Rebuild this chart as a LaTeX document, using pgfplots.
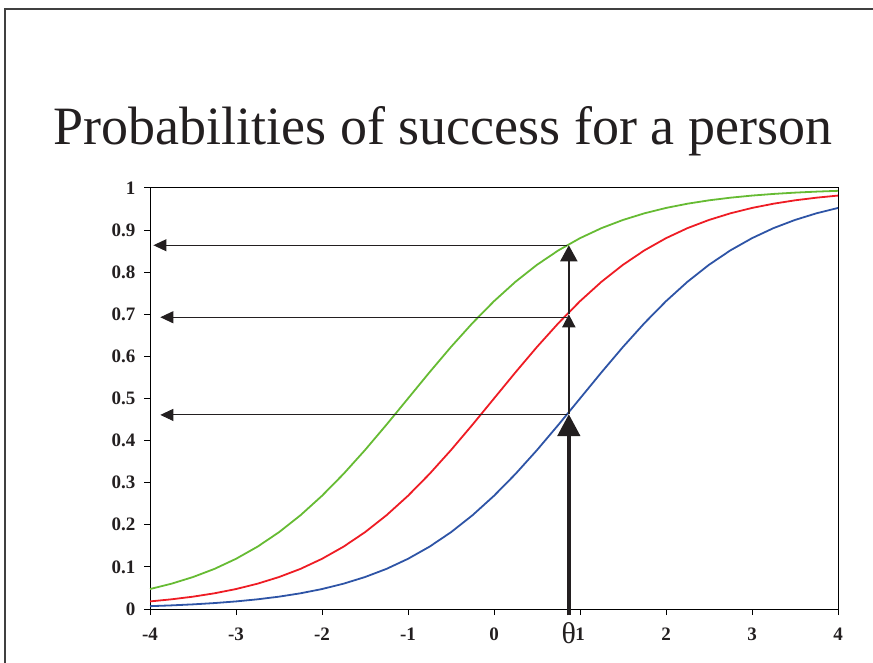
\documentclass[border=0pt]{standalone}
\usepackage{pgfplots}
\pgfplotsset{compat=1.18}
\usepackage{fontspec}
\setmainfont{Liberation Serif}
\usetikzlibrary{arrows.meta}
\definecolor{cgreen}{RGB}{102,187,51}
\definecolor{cred}{RGB}{238,28,36}
\definecolor{cblue}{RGB}{46,84,166}
\definecolor{ctext}{RGB}{35,31,32}
\begin{document}
\begin{tikzpicture}
\useasboundingbox (0,0) rectangle (873bp,663bp);
\draw[line width=1.3bp, black!75] (5bp,-5bp) -- (5bp,654bp) -- (880bp,654bp);
\node[anchor=base, text=ctext, font=\fontsize{54bp}{60bp}\selectfont] at (443bp,518bp) {Probabilities of success for a person};
\begin{axis}[
  at={(150bp,54bp)}, anchor=south west,
  width=688bp, height=421bp, scale only axis,
  xmin=-4, xmax=4, ymin=0, ymax=1,
  clip=false,
  xtick={-4,-3,-2,-1,0,1,2,3,4},
  xticklabels={-4,-3,-2,-1,0,1,2,3,4},
  ytick={0,0.1,0.2,0.3,0.4,0.5,0.6,0.7,0.8,0.9,1},
  yticklabels={0,0.1,0.2,0.3,0.4,0.5,0.6,0.7,0.8,0.9,1},
  xtick pos=bottom, ytick pos=left, tick align=outside,
  major tick length=6bp,
  tick style={black, line width=1bp},
  axis line style={black, line width=1bp},
  ticklabel style={font=\fontsize{19bp}{19bp}\selectfont\bfseries, text=ctext},
  xticklabel style={yshift=-9bp},
  yticklabel style={xshift=-5bp},
]
\addplot[cgreen, line width=1.8bp] coordinates {
(-4,0.0474) (-3.75,0.0601) (-3.5,0.0759) (-3.25,0.0953) (-3,0.1192) (-2.75,0.1480) (-2.5,0.1824) (-2.25,0.2227)
(-2,0.2689) (-1.75,0.3208) (-1.5,0.3775) (-1.25,0.4378) (-1,0.5) (-0.75,0.5622) (-0.5,0.6225) (-0.25,0.6792)
(0,0.7311) (0.25,0.7773) (0.5,0.8176) (0.75,0.8520) (1,0.8808) (1.25,0.9047) (1.5,0.9241) (1.75,0.9399)
(2,0.9526) (2.25,0.9627) (2.5,0.9707) (2.75,0.9770) (3,0.9820) (3.25,0.9859) (3.5,0.9890) (3.75,0.9914) (4,0.9933)};
\addplot[cred, line width=1.8bp] coordinates {
(-4,0.0180) (-3.75,0.0230) (-3.5,0.0293) (-3.25,0.0373) (-3,0.0474) (-2.75,0.0601) (-2.5,0.0759) (-2.25,0.0953)
(-2,0.1192) (-1.75,0.1480) (-1.5,0.1824) (-1.25,0.2227) (-1,0.2689) (-0.75,0.3208) (-0.5,0.3775) (-0.25,0.4378)
(0,0.5) (0.25,0.5622) (0.5,0.6225) (0.75,0.6792) (1,0.7311) (1.25,0.7773) (1.5,0.8176) (1.75,0.8520)
(2,0.8808) (2.25,0.9047) (2.5,0.9241) (2.75,0.9399) (3,0.9526) (3.25,0.9627) (3.5,0.9707) (3.75,0.9770) (4,0.9820)};
\addplot[cblue, line width=1.8bp] coordinates {
(-4,0.0067) (-3.75,0.0086) (-3.5,0.0110) (-3.25,0.0141) (-3,0.0180) (-2.75,0.0230) (-2.5,0.0293) (-2.25,0.0373)
(-2,0.0474) (-1.75,0.0601) (-1.5,0.0759) (-1.25,0.0953) (-1,0.1192) (-0.75,0.1480) (-0.5,0.1824) (-0.25,0.2227)
(0,0.2689) (0.25,0.3208) (0.5,0.3775) (0.75,0.4378) (1,0.5) (1.25,0.5622) (1.5,0.6225) (1.75,0.6792)
(2,0.7311) (2.25,0.7773) (2.5,0.8176) (2.75,0.8520) (3,0.8808) (3.25,0.9047) (3.5,0.9241) (3.75,0.9399) (4,0.9526)};
% horizontal arrows
\draw[ctext, line width=1bp, -{Triangle[length=13bp,width=12bp]}] (axis cs:0.85,0.864) -- (axis cs:-3.96,0.864);
\draw[ctext, line width=1bp, -{Triangle[length=13bp,width=12bp]}] (axis cs:0.85,0.693) -- (axis cs:-3.88,0.693);
\draw[ctext, line width=1bp, -{Triangle[length=13bp,width=12bp]}] (axis cs:0.85,0.461) -- (axis cs:-3.88,0.461);
% vertical arrows
\draw[ctext, line width=4.5bp, -{Triangle[length=22bp,width=22bp]}] (axis cs:0.87,-0.015) -- (axis cs:0.87,0.463);
\draw[ctext, line width=1.8bp, -{Triangle[length=13bp,width=13bp]}] (axis cs:0.87,0.463) -- (axis cs:0.87,0.70);
\draw[ctext, line width=1.8bp, -{Triangle[length=16bp,width=17bp]}] (axis cs:0.87,0.70) -- (axis cs:0.87,0.864);
\node[text=ctext, font=\fontsize{30bp}{30bp}\selectfont] at (axis cs:0.87,-0.057) {θ};
\end{axis}
\end{tikzpicture}
\end{document}
